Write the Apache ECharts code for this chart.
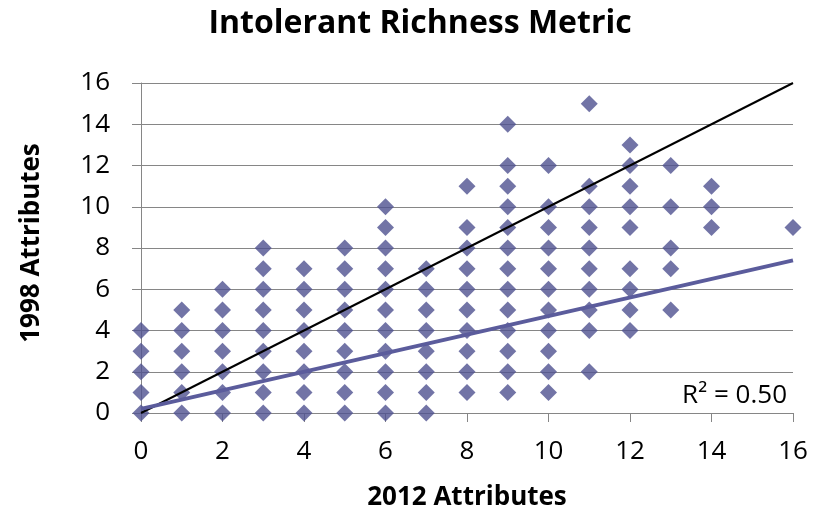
<!DOCTYPE html>
<html><head><meta charset="utf-8">
<script src="https://cdn.jsdelivr.net/npm/echarts@6/dist/echarts.min.js"></script>
<style>html,body{margin:0;padding:0;background:#fff}#c{width:825px;height:516px}</style>
</head><body><div id="c"></div>
<script>
// 2012 attribute values (x columns) and the 1998 values observed at each
var xColumns = [0, 1, 2, 3, 4, 5, 6, 7, 8, 9, 10, 11, 12, 13, 14, 16];
var yByColumn = [
  [0, 1, 2, 3, 4],
  [0, 1, 2, 3, 4, 5],
  [0, 1, 2, 3, 4, 5, 6],
  [0, 1, 2, 3, 4, 5, 6, 7, 8],
  [0, 1, 2, 3, 4, 5, 6, 7],
  [0, 1, 2, 3, 4, 5, 6, 7, 8],
  [0, 1, 2, 3, 4, 5, 6, 7, 8, 9, 10],
  [0, 1, 2, 3, 4, 5, 6, 7],
  [1, 2, 3, 4, 5, 6, 7, 8, 9, 11],
  [1, 2, 3, 4, 5, 6, 7, 8, 9, 10, 11, 12, 14],
  [1, 2, 3, 4, 5, 6, 7, 8, 9, 10, 12],
  [2, 4, 5, 6, 7, 8, 9, 10, 11, 15],
  [4, 5, 6, 7, 9, 10, 11, 12, 13],
  [5, 7, 8, 10, 12],
  [9, 10, 11],
  [9]
];
var axisTicks = [0, 2, 4, 6, 8, 10, 12, 14, 16];
var trendIntercept = 0.2;
var trendSlope = 0.45;
var rSquaredText = 'R² = 0.50';
var titleText = 'Intolerant Richness Metric';
var xTitle = '2012 Attributes';
var yTitle = '1998 Attributes';

var points = [];
xColumns.forEach(function (x, i) {
  yByColumn[i].forEach(function (y) { points.push([x, y]); });
});
var xMin = axisTicks[0], xMax = axisTicks[axisTicks.length - 1];
var tickStep = axisTicks[1] - axisTicks[0];
var trendData = [[xMin, trendIntercept + trendSlope * xMin], [xMax, trendIntercept + trendSlope * xMax]];
var identityData = [[xMin, xMin], [xMax, xMax]];

var font = 'Open Sans, sans-serif';
var chart = echarts.init(document.getElementById('c'), null, {renderer: 'canvas'});
chart.setOption({
  animation: false,
  backgroundColor: '#fff',
  grid: {left: 141, right: 32, top: 83, bottom: 101},
  xAxis: {
    type: 'value', min: xMin, max: xMax, interval: tickStep,
    name: xTitle, nameLocation: 'middle', nameGap: 72,
    nameTextStyle: {fontFamily: font, fontSize: 26, fontWeight: 'bold', color: '#000'},
    axisLine: {show: true, lineStyle: {color: '#868686', width: 1}},
    axisTick: {show: true, length: 9, lineStyle: {color: '#868686'}},
    axisLabel: {fontFamily: font, fontSize: 26, color: '#000', margin: 26},
    splitLine: {show: false}
  },
  yAxis: {
    type: 'value', min: xMin, max: xMax, interval: tickStep,
    axisLine: {show: true, lineStyle: {color: '#868686', width: 1}},
    axisTick: {show: true, length: 9, lineStyle: {color: '#868686'}},
    axisLabel: {fontFamily: font, fontSize: 26, color: '#000', margin: 31},
    splitLine: {show: true, lineStyle: {color: '#868686', width: 1}}
  },
  series: [
    {
      type: 'scatter', data: points, symbol: 'diamond', symbolSize: 17,
      itemStyle: {color: '#4f5190'}, z: 2
    },
    {
      type: 'line', data: identityData, symbol: 'none', silent: true,
      lineStyle: {color: '#000', width: 2}, z: 3
    },
    {
      type: 'line', data: trendData, symbol: 'none', silent: true,
      lineStyle: {color: '#5b5c9c', width: 4}, z: 4
    }
  ],
  graphic: [
    {
      type: 'text', x: 420, y: 24,
      style: {text: titleText, fontFamily: font, fontSize: 32, fontWeight: 'bold', fill: '#000',
              align: 'center', verticalAlign: 'middle'}
    },
    {
      type: 'text', x: 32, y: 243, rotation: Math.PI / 2,
      style: {text: yTitle, fontFamily: font, fontSize: 26, fontWeight: 'bold', fill: '#000',
              align: 'center', verticalAlign: 'middle'}
    },
    {
      type: 'text', x: 787, y: 396,
      style: {text: rSquaredText, fontFamily: font, fontSize: 26, fill: '#000', backgroundColor: '#fff',
              align: 'right', verticalAlign: 'middle'}
    }
  ]
});
</script></body></html>
